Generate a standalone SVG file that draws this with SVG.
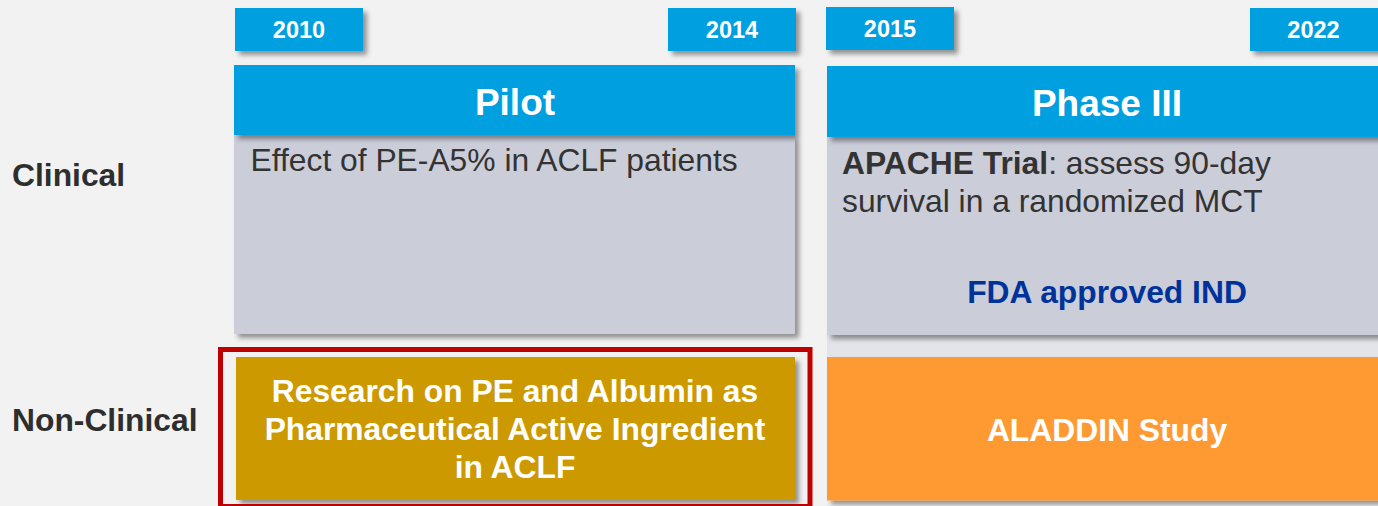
<svg xmlns="http://www.w3.org/2000/svg" width="1378" height="506" viewBox="0 0 1378 506">
  <defs>
    <filter id="sh" x="-10%" y="-20%" width="130%" height="150%">
      <feDropShadow dx="4" dy="4" stdDeviation="2.5" flood-color="#000" flood-opacity="0.4"/>
    </filter>
    <style>
      text { font-family: "Liberation Sans", Arial, sans-serif; }
      .year { fill: #00A0E0; filter: url(#sh); }
      .yeart { fill: #FFFFFF; font-size: 23.5px; font-weight: bold; text-anchor: middle; }
      .head { fill: #00A0E0; filter: url(#sh); }
      .headt { fill: #FFFFFF; font-size: 37px; font-weight: bold; text-anchor: middle; }
      .body { fill: #CBCDD9; filter: url(#sh); }
      .bodyt { fill: #333333; font-size: 31.8px; }
      .lab { fill: #2E2E2E; font-size: 31.8px; font-weight: bold; }
      .wt { fill: #FFFFFF; font-size: 31.8px; font-weight: bold; text-anchor: middle; }
    </style>
  </defs>
  <rect x="0" y="0" width="1378" height="506" fill="#F2F2F2"/>

  <g id="label-clinical"><text class="lab" x="12" y="186">Clinical</text></g>
  <g id="label-nonclinical"><text class="lab" x="12" y="431">Non-Clinical</text></g>

  <g id="year-2010"><rect class="year" x="235" y="8" width="128" height="43"/><text class="yeart" x="299" y="38.3">2010</text></g>
  <g id="year-2014"><rect class="year" x="668" y="8" width="128" height="43"/><text class="yeart" x="732" y="38.3">2014</text></g>
  <g id="year-2015"><rect class="year" x="826" y="7" width="128" height="43"/><text class="yeart" x="890" y="36.7">2015</text></g>
  <g id="year-2022"><rect class="year" x="1250" y="8" width="132" height="43"/><text class="yeart" x="1313.5" y="38">2022</text></g>

  <g id="pilot">
    <rect class="body" x="234" y="135" width="561" height="199"/>
    <rect class="head" x="234" y="65" width="561" height="70"/>
    <text class="headt" x="515" y="114.5">Pilot</text>
    <text class="bodyt" x="250.5" y="170.7">Effect of PE-A5% in ACLF patients</text>
  </g>

  <g id="phase3">
    <rect x="827" y="335" width="551" height="22" fill="#E3E4E9"/>
    <rect class="body" x="827" y="137" width="555" height="198"/>
    <rect class="head" x="827" y="66" width="555" height="71"/>
    <text class="headt" x="1107" y="115.5">Phase III</text>
    <text class="bodyt" x="842" y="174.3"><tspan font-weight="bold">APACHE Trial</tspan>: assess 90-day</text>
    <text class="bodyt" x="842" y="212.3">survival in a randomized MCT</text>
    <text x="1107" y="303" font-size="31.8" font-weight="bold" fill="#003399" text-anchor="middle">FDA approved IND</text>
  </g>

  <g id="research">
    <rect x="236" y="357" width="559" height="143" fill="#CC9900" filter="url(#sh)"/>
    <text class="wt" x="515" y="401.7">Research on PE and Albumin as</text>
    <text class="wt" x="515" y="440">Pharmaceutical Active Ingredient</text>
    <text class="wt" x="515" y="478.3">in ACLF</text>
    <rect x="220.5" y="349.5" width="589.5" height="157" fill="none" stroke="#C00000" stroke-width="5"/>
  </g>

  <g id="aladdin">
    <rect x="827" y="357" width="555" height="143.5" fill="#FF9933" filter="url(#sh)"/>
    <text class="wt" x="1107" y="441">ALADDIN Study</text>
  </g>
</svg>
